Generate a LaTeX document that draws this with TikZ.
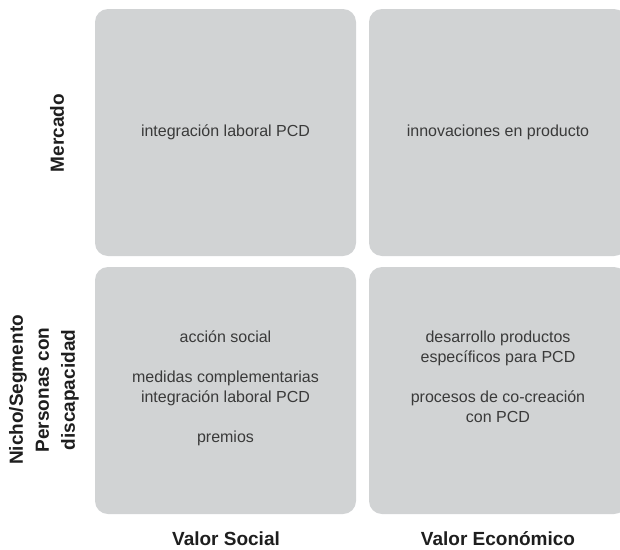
\documentclass[tikz,border=0pt]{standalone}
\usepackage{fontspec}
\setmainfont{Liberation Sans}
\definecolor{cajagris}{HTML}{D1D3D4}
\definecolor{textogris}{HTML}{3A3A3A}
\definecolor{rotulo}{HTML}{1E1E1E}
\begin{document}
\begin{tikzpicture}[
      x=1pt, y=-1pt,
      every node/.style={font=\fontsize{16}{20}\selectfont, text=textogris},
      caja/.style={fill=cajagris, rounded corners=13pt, inner sep=0pt,
                   minimum width=261pt, minimum height=247pt},
      texto/.style={align=center, inner sep=0pt},
      rotulo/.style={font=\fontsize{19}{26}\selectfont\bfseries, text=rotulo,
                     align=center, inner sep=0pt}
    ]
    \useasboundingbox (0,0) rectangle (620,549);
    \clip (0,0) rectangle (620,549);

    % Cuadrantes
    \node[caja] (merSoc) at (225.5,132.5) {};
    \node[caja, minimum width=258pt] (merEco) at (498,132.5) {};
    \node[caja] (nicSoc) at (225.5,390.5) {};
    \node[caja, minimum width=258pt] (nicEco) at (498,390.5) {};

    % Textos de cada cuadrante
    \node[texto] (tMerSoc) at (merSoc.center) {integración laboral PCD};
    \node[texto] (tMerEco) at (merEco.center) {innovaciones en producto};
    \node[texto, anchor=north] (tNicSoc) at (225.5,331)
      {acción social\\[20pt]
       medidas complementarias\\integración laboral PCD\\[20pt]
       premios};
    \node[texto, anchor=north] (tNicEco) at (498,331)
      {desarrollo productos\\específicos para PCD\\[20pt]
       procesos de co-creación\\con PCD};

    % Ejes: filas
    \node[rotulo, rotate=90] (eMercado) at (57,133) {Mercado};
    \node[rotulo, rotate=90] (eNicho) at (44,390)
      {Nicho/Segmento\\Personas con\\discapacidad};

    % Ejes: columnas
    \node[rotulo, anchor=base] (eSocial) at (226,545) {Valor Social};
    \node[rotulo, anchor=base] (eEco) at (498,545) {Valor Económico};
  \end{tikzpicture}
\end{document}
